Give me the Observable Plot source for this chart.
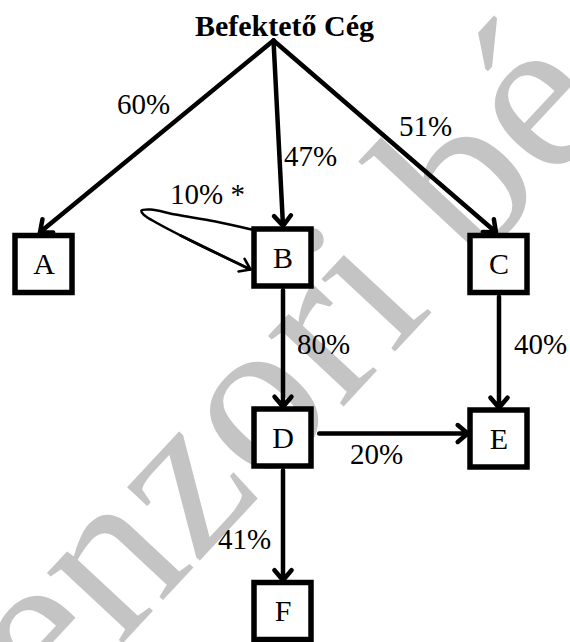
<!DOCTYPE html>
<html>
<head>
<meta charset="utf-8">
<script src="https://cdn.jsdelivr.net/npm/d3@7"></script>
<script src="https://cdn.jsdelivr.net/npm/@observablehq/plot@0.6"></script>
<style>
  html, body { margin: 0; padding: 0; background: #fff; }
  #chart svg { display: block; }
  #chart svg text { font-family: "Liberation Serif", "DejaVu Serif", serif !important; }
</style>
</head>
<body>
<div id="chart"></div>
<script>
// ---- data ----
const title = "Befektető Cég";
const apexX = 273, apexY = 40;               // point under the title where the arrows start

const nodeNames = ["A", "B", "C", "D", "E", "F"];
const nodeX = [43.5, 282.5, 498.5, 282.5, 498.5, 282.5];
const nodeY = [264, 257.5, 264, 437.5, 438.5, 611];

const edgeFrom = ["Befektető Cég", "Befektető Cég", "Befektető Cég", "B", "C", "D", "D"];
const edgeTo = ["A", "B", "C", "D", "E", "E", "F"];
const edgeLabels = ["60%", "47%", "51%", "80%", "40%", "20%", "41%"];
const labelX = [143, 310, 425, 323, 540, 376, 244];
const labelY = [113, 165, 135, 353, 353, 463, 548];

const loopLabel = "10% *";
const loopLabelX = 207, loopLabelY = 203;
const loopPathX = [251, 215, 175, 150, 141, 143, 152, 190, 250];
const loopPathY = [229, 221, 214, 209, 210, 214, 220, 240, 269];

const watermark = "enzori bé";

// ---- geometry helpers ----
const half = 28.5;      // half box side (stroke centre)
const outer = 31.2;     // half box side to outer edge
const nodes = nodeNames.map((n, i) => ({name: n, x: nodeX[i], y: nodeY[i]}));
const byName = Object.fromEntries(nodes.map(d => [d.name, d]));

const edges = edgeTo.map((t, i) => {
  const tgt = byName[t];
  const src = byName[edgeFrom[i]];
  let x1, y1, x2, y2;
  if (!src) { x1 = apexX; y1 = apexY; x2 = tgt.x - (t === "A" ? 4 : (t === "C" ? 3 : 0)); y2 = tgt.y - outer - 1; }
  else if (Math.abs(src.x - tgt.x) < 5) { x1 = src.x; y1 = src.y + outer + 1; x2 = tgt.x; y2 = tgt.y - outer; }
  else { x1 = src.x + outer + 5; y1 = (src.y + tgt.y) / 2 - 5; x2 = tgt.x - outer; y2 = y1; }
  return {x1, y1, x2, y2, label: edgeLabels[i], lx: labelX[i], ly: labelY[i]};
});
const loop = loopPathX.map((x, i) => ({x, y: loopPathY[i]}));
const loopHead = [{x1: loopPathX[7] - 10, y1: loopPathY[7] - 5, x2: loopPathX[8], y2: loopPathY[8]}];

const serif = "Liberation Serif";

const chart = Plot.plot({
  width: 570,
  height: 642,
  margin: 0,
  x: {domain: [0, 570], range: [0, 570], axis: null},
  y: {domain: [0, 642], range: [0, 642], axis: null},
  style: {background: "#fff", overflow: "visible"},
  marks: [
    Plot.text([watermark], {x: 281, y: 367, text: d => d, rotate: -47, fontSize: 225,
      fill: "#c4c4c4", fontFamily: serif, textAnchor: "middle", lineAnchor: "middle"}),
    Plot.arrow(edges, {x1: "x1", y1: "y1", x2: "x2", y2: "y2", stroke: "#000",
      strokeWidth: 4.5, headLength: 4.4, headAngle: 80}),
    Plot.line(loop, {x: "x", y: "y", curve: "catmull-rom", stroke: "#000", strokeWidth: 2.6}),
    Plot.arrow(loopHead, {x1: "x1", y1: "y1", x2: "x2", y2: "y2", stroke: "#000",
      strokeWidth: 2.6, headLength: 7, headAngle: 70}),
    Plot.rect(nodes, {x1: d => d.x - half, x2: d => d.x + half, y1: d => d.y - half, y2: d => d.y + half,
      fill: "#fff", stroke: "#000", strokeWidth: 5.5}),
    Plot.text(nodes, {x: "x", y: "y", text: "name", fontSize: 30, fill: "#000", fontFamily: serif,
      textAnchor: "middle", lineAnchor: "middle"}),
    Plot.text(edges, {x: "lx", y: "ly", text: "label", fontSize: 29, fill: "#000", fontFamily: serif,
      textAnchor: "middle", lineAnchor: "bottom"}),
    Plot.text([loopLabel], {x: loopLabelX, y: loopLabelY, text: d => d, fontSize: 29, fill: "#000",
      fontFamily: serif, textAnchor: "middle", lineAnchor: "bottom"}),
    Plot.text([title], {x: 284, y: 35, text: d => d, fontSize: 30, fontWeight: "bold", fill: "#000",
      fontFamily: serif, textAnchor: "middle", lineAnchor: "bottom"})
  ]
});
document.getElementById("chart").appendChild(chart);
</script>
</body>
</html>
